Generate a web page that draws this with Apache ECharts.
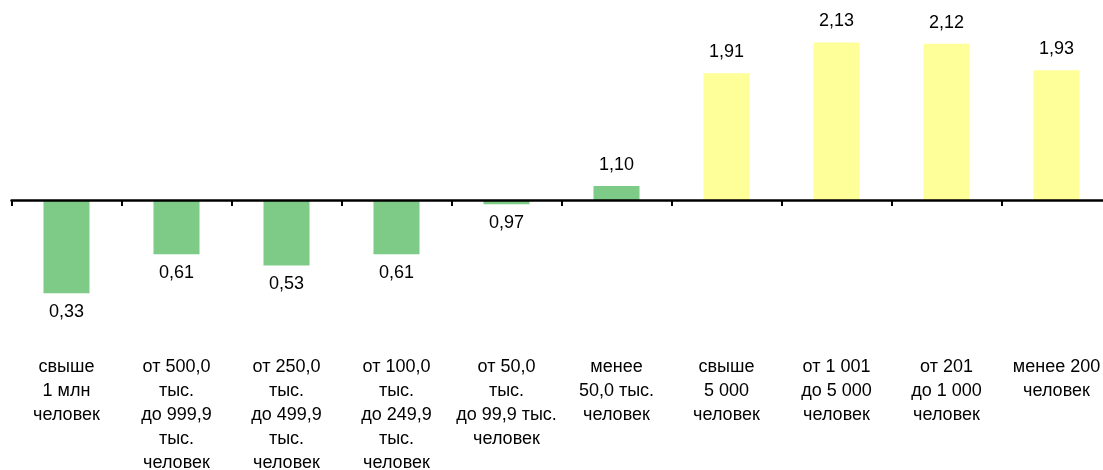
<!DOCTYPE html>
<html><head><meta charset="utf-8">
<script src="https://cdn.jsdelivr.net/npm/echarts@6/dist/echarts.min.js"></script>
<style>html,body{margin:0;padding:0;background:#fff}#c{width:1103px;height:470px}</style>
</head><body><div id="c"></div>
<script>
const categories = [
  "свыше\n1 млн\nчеловек",
  "от 500,0\nтыс.\nдо 999,9\nтыс.\nчеловек",
  "от 250,0\nтыс.\nдо 499,9\nтыс.\nчеловек",
  "от 100,0\nтыс.\nдо 249,9\nтыс.\nчеловек",
  "от 50,0\nтыс.\nдо 99,9 тыс.\nчеловек",
  "менее\n50,0 тыс.\nчеловек",
  "свыше\n5 000\nчеловек",
  "от 1 001\nдо 5 000\nчеловек",
  "от 201\nдо 1 000\nчеловек",
  "менее 200\nчеловек"
];
const values = [0.33, 0.61, 0.53, 0.61, 0.97, 1.10, 1.91, 2.13, 2.12, 1.93];
const groupColors = ["#7dcb87","#7dcb87","#7dcb87","#7dcb87","#7dcb87","#7dcb87","#ffff99","#ffff99","#ffff99","#ffff99"];
const baseline = 1;

const chart = echarts.init(document.getElementById('c'), null, {renderer:'canvas'});
const font = 'Liberation Sans, Arial, sans-serif';
chart.setOption({
  animation: false,
  grid: {left: 11.5, right: -8.5, top: 4.84, bottom: 116.7, containLabel: false, outerBoundsMode: 'none'},
  xAxis: [
    {type:'category', data: categories, position:'top',
     axisLine:{show:true, onZero:true, lineStyle:{color:'#000', width:2.5}},
     axisTick:{show:true, interval:0, inside:true, length:6, lineStyle:{color:'#000', width:2}},
     axisLabel:{show:false, interval:0}, splitLine:{show:false}, z: 10},
    {type:'category', data: categories, position:'bottom',
     axisLine:{show:false, onZero:false}, axisTick:{show:false},
     axisLabel:{show:true, interval:0, margin:2, color:'#000', fontFamily:font, fontSize:18, lineHeight:24, align:'center', verticalAlign:'top'}}
  ],
  yAxis: {type:'value', min:-1.1, max:1.4, show:false, splitLine:{show:false}},
  series: [{
    type:'bar', xAxisIndex:0, barWidth:46,
    data: values.map((v,i)=>({value: +(v-baseline).toFixed(4), itemStyle:{color: groupColors[i]},
      label:{position: v>=baseline?'top':'bottom', distance: v>=baseline?12:10}})),
    label:{show:true, color:'#000', fontFamily:font, fontSize:18,
      formatter: p => values[p.dataIndex].toFixed(2).replace('.', ',')}
  }]
});
</script></body></html>
